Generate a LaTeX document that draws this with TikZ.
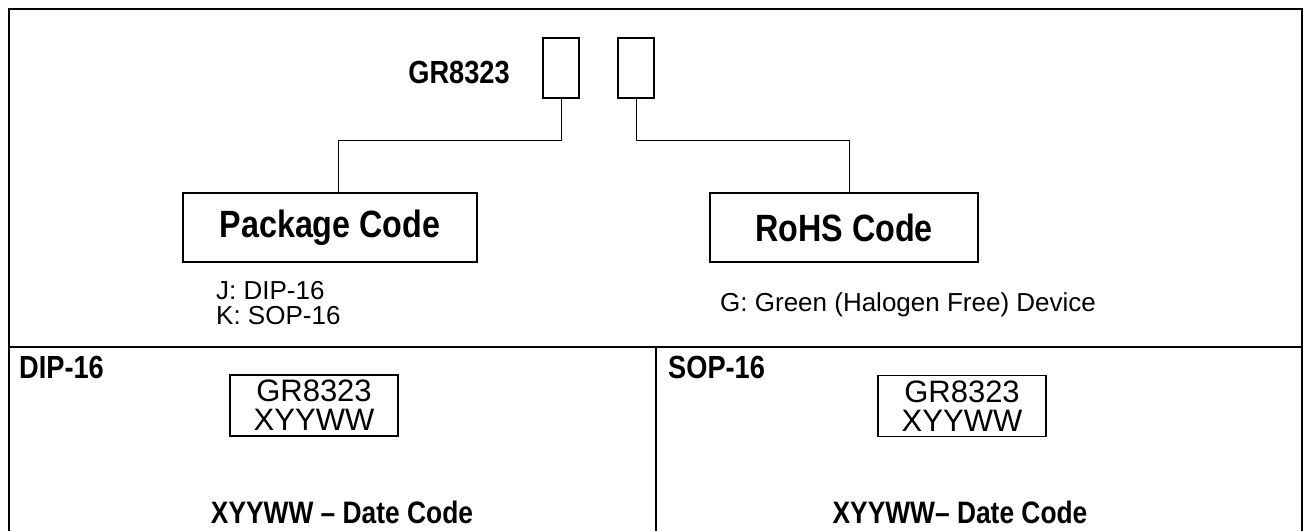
\documentclass[tikz,border=0pt]{standalone}
\usepackage{fontspec}
\setmainfont{Liberation Sans}
\newfontfamily\headfont{Liberation Sans}[FakeStretch=0.85]
\usetikzlibrary{positioning}

\tikzset{
    frame/.style={line width=2pt},
    slot/.style={draw, line width=1.2pt, minimum width=36pt, minimum height=60pt, inner sep=0pt},
    codebox/.style={draw, line width=1.2pt, minimum height=69pt, inner sep=0pt,
        font=\headfont\fontsize{38}{40}\selectfont\bfseries},
    markbox/.style={draw, line width=1.2pt, minimum width=168pt, minimum height=61pt, inner sep=0pt,
        align=center, font=\fontsize{31}{29}\selectfont},
    note/.style={font=\fontsize{26}{25}\selectfont, align=left, inner sep=0pt},
    head/.style={font=\headfont\fontsize{32}{34}\selectfont\bfseries, inner sep=0pt},
    link/.style={line width=1pt}
}

\begin{document}
\begin{tikzpicture}[x=1pt, y=-1pt]
    \useasboundingbox (0,0) rectangle (1305,530);
    % outer frame
    \draw[frame] (9,531) -- (9,9) -- (1302,9) -- (1302,531);
    \draw[frame] (9,347) -- (1302,347);
    \draw[line width=1.2pt] (656,347) -- (656,531);

    % part number
    \node[head] (part) at (459,73) {GR8323};
    \node[slot] (pkgslot) at (561,68) {};
    \node[slot] (rohsslot) at (636,68) {};

    \node[codebox, minimum width=294pt] (pkg) at (330,227.5) {Package Code};
    \node[codebox, minimum width=268pt] (rohs) at (844,227.5) {RoHS Code};

    \draw[link] (pkgslot.south) -- ++(0,42) -| ([xshift=8pt]pkg.north);
    \draw[link] (rohsslot.south) -- ++(0,42) -| ([xshift=5pt]rohs.north);

    \node[note, anchor=north west] (pkglist) at (216,281) {J: DIP-16\\K: SOP-16};
    \node[note, anchor=west] (rohslist) at (720,305) {G: Green (Halogen Free) Device};

    % marking
    \node[head, anchor=west] (dip) at (19,367) {DIP-16};
    \node[markbox] (dipmark) at (314,405.5) {GR8323\\XYYWW};
    \node[head, font=\headfont\fontsize{31}{33}\selectfont\bfseries] (dipdate) at (342,512) {XYYWW – Date Code};

    \node[head, anchor=west] (sop) at (668,367) {SOP-16};
    \node[markbox] (sopmark) at (962,406) {GR8323\\XYYWW};
    \node[head, font=\headfont\fontsize{31}{33}\selectfont\bfseries] (sopdate) at (960,512) {XYYWW– Date Code};
\end{tikzpicture}
\end{document}
